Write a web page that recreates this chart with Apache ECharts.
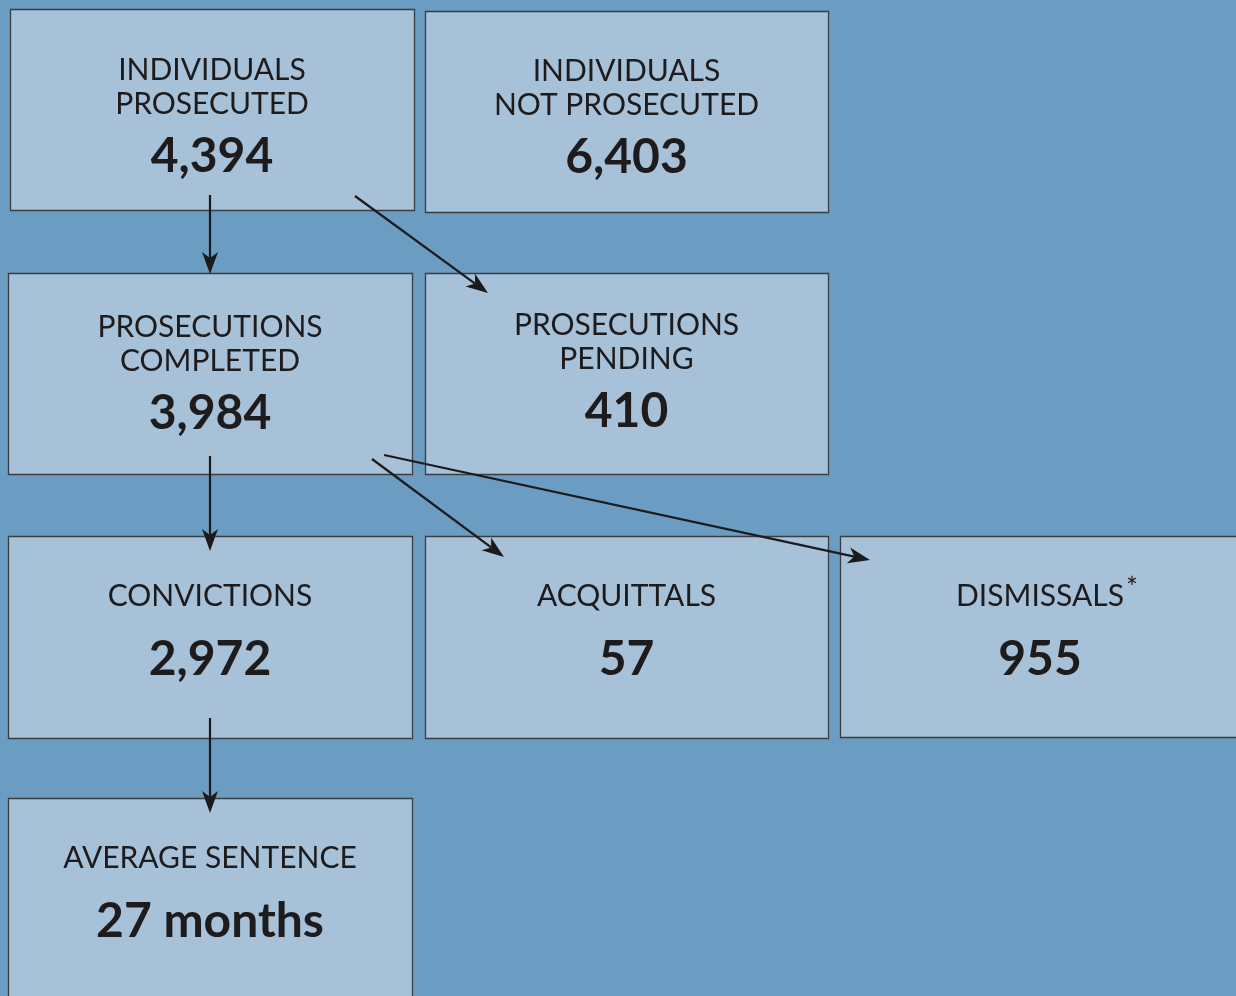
<!DOCTYPE html>
<html>
<head>
<meta charset="utf-8">
<script src="https://cdn.jsdelivr.net/npm/echarts@6/dist/echarts.min.js"></script>
<style>
html,body{margin:0;padding:0;background:#6b9cc2;}
#chart{width:1236px;height:996px;}
</style>
</head>
<body>
<div id="chart"></div>
<script>
// ---- data ----
const boxTitles = [
  ['INDIVIDUALS', 'PROSECUTED'],
  ['INDIVIDUALS', 'NOT PROSECUTED'],
  ['PROSECUTIONS', 'COMPLETED'],
  ['PROSECUTIONS', 'PENDING'],
  ['CONVICTIONS'],
  ['ACQUITTALS'],
  ['DISMISSALS'],
  ['AVERAGE SENTENCE']
];
const boxValues = [4394, 6403, 3984, 410, 2972, 57, 955, 27];
const valueUnits = ['', '', '', '', '', '', '', ' months'];
const footnoteMarks = ['', '', '', '', '', '', '*', ''];
const flows = [[0, 2], [0, 3], [2, 4], [2, 5], [2, 6], [4, 7]];

// ---- layout (plot units on hidden axes) ----
const boxLeft   = [10, 425, 8, 425, 8, 425, 840, 8];
const boxTop    = [9, 11, 273, 273, 536, 536, 536, 798];
const boxRight  = [414, 828, 412, 828, 412, 828, 1240, 412];
const boxBottom = [210, 212, 474, 474, 738, 738, 737, 1000];
const textShift = [3, 2, -4, -6, 0, 0, 0, 0];
const flowStart = [[210, 195], [355, 196], [210, 456], [372, 459], [384, 455], [210, 718]];
const flowEnd   = [[210, 274], [488, 293], [210, 551], [504, 557], [870, 560], [210, 813]];

const chart = echarts.init(document.getElementById('chart'));

function fmt(v) { return v.toLocaleString('en-US'); }

const boxData = boxValues.map((v, i) => [boxLeft[i], boxTop[i], boxRight[i], boxBottom[i], i]);
const flowData = flows.map((f, i) => [flowStart[i][0], flowStart[i][1], flowEnd[i][0], flowEnd[i][1], f[0], f[1]]);

const titleFont = 'Lato, "Noto Sans", sans-serif';
const ink = '#1e1b1c';
const measureCtx = document.createElement('canvas').getContext('2d');
function textWidth(t, font) { measureCtx.font = font; return measureCtx.measureText(t).width; }

function renderBox(params, api) {
  const i = api.value(4);
  const p0 = api.coord([api.value(0), api.value(1)]);
  const p1 = api.coord([api.value(2), api.value(3)]);
  const x = Math.round(p0[0]) + 0.5, y = Math.round(p0[1]) + 0.5;
  const w = Math.round(p1[0] - p0[0]), h = Math.round(p1[1] - p0[1]);
  const cx = (p0[0] + p1[0]) / 2;
  const lines = boxTitles[i];
  const children = [{
    type: 'rect',
    shape: { x: x, y: y, width: w, height: h },
    style: { fill: '#a6c1d8', stroke: '#3a3d42', lineWidth: 1.3 }
  }];
  const two = lines.length === 2;
  const firstY = (two ? y + 58 : y + 60) + textShift[i];
  lines.forEach((t, k) => {
    const mark = (footnoteMarks[i] && k === lines.length - 1) ? footnoteMarks[i] : '';
    const tx = cx - (mark ? 0 : 0);
    children.push({
      type: 'text',
      style: {
        text: t, x: tx, y: firstY + k * 34,
        align: 'center', verticalAlign: 'middle',
        fill: ink, fontFamily: titleFont, fontSize: 30
      }
    });
    if (mark) {
      const tw = textWidth(t, '30px Lato');
      children.push({
        type: 'text',
        style: {
          text: mark, x: tx + tw / 2 + 2, y: firstY + k * 34 - 8,
          align: 'left', verticalAlign: 'middle',
          fill: ink, fontFamily: titleFont, fontSize: 28
        }
      });
    }
  });
  const numY = (two ? y + 144 : y + 123) + textShift[i];
  children.push({
    type: 'text',
    style: {
      text: fmt(boxValues[i]) + valueUnits[i],
      x: cx, y: numY,
      align: 'center', verticalAlign: 'middle',
      fill: ink, fontFamily: titleFont, fontWeight: 'bold', fontSize: 48
    }
  });
  return { type: 'group', children: children };
}

function renderFlow(params, api) {
  const a = api.coord([api.value(0), api.value(1)]);
  const b = api.coord([api.value(2), api.value(3)]);
  const dx = b[0] - a[0], dy = b[1] - a[1];
  const len = Math.sqrt(dx * dx + dy * dy);
  const ux = dx / len, uy = dy / len;
  const nx = -uy, ny = ux;
  const L = 22, W = 8, notch = 6;
  const bx = b[0] - ux * L, by = b[1] - uy * L;
  const mx = b[0] - ux * (L - notch), my = b[1] - uy * (L - notch);
  return {
    type: 'group',
    children: [
      { type: 'line', shape: { x1: a[0], y1: a[1], x2: mx, y2: my },
        style: { stroke: '#1c1a1b', lineWidth: 2.2 } },
      { type: 'polygon', shape: { points: [
          [b[0], b[1]], [bx + nx * W, by + ny * W], [mx, my], [bx - nx * W, by - ny * W]] },
        style: { fill: '#1c1a1b' } }
    ]
  };
}

chart.setOption({
  backgroundColor: '#6b9cc2',
  animation: false,
  grid: { left: 0, right: 0, top: 0, bottom: 0 },
  xAxis: { type: 'value', min: 0, max: 1236, show: false },
  yAxis: { type: 'value', min: 0, max: 996, inverse: true, show: false },
  series: [
    { type: 'custom', coordinateSystem: 'cartesian2d', renderItem: renderBox, data: boxData, clip: false, z: 2 },
    { type: 'custom', coordinateSystem: 'cartesian2d', renderItem: renderFlow, data: flowData, clip: false, z: 3 }
  ]
});
</script>
</body>
</html>
